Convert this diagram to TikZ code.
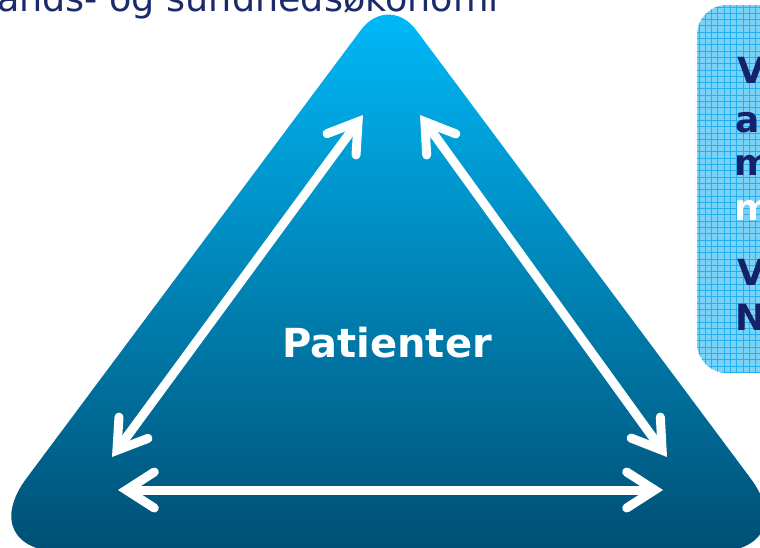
\documentclass[tikz,border=0pt]{standalone}
\usepackage{fontspec}
\setmainfont{DejaVu Sans}
\usetikzlibrary{arrows.meta}
\definecolor{navy}{HTML}{14216B}
\definecolor{titlenavy}{HTML}{1B2A6B}
\definecolor{tritop}{HTML}{00BCFC}
\definecolor{trimid}{HTML}{009CD4}
\definecolor{tribot}{HTML}{004F74}
\definecolor{boxfill}{HTML}{7AD3F7}
\definecolor{boxgrid}{HTML}{22B0EE}
\tikzset{
  barb/.tip={Straight Barb[length=28pt,width=36pt,line cap=round,line join=miter]},
  dblarrow/.style={draw=white, line width=9pt, barb-barb},
  boxletter/.style={anchor=base west, inner sep=0pt, text=navy,
    font=\bfseries\fontsize{36}{44}\selectfont},
}
\begin{document}
\begin{tikzpicture}[x=1pt,y=-1pt]
\useasboundingbox (0,0) rectangle (760,547);
\clip (0,0) rectangle (760,547);

% title (cut off at the top)
\node[anchor=base west, inner sep=0pt, text=titlenavy,
  font=\fontsize{36.5}{44}\selectfont] (title) at (-3,11) {ands- og sundhedsøkonomi};

% triangle
\shade[top color=tritop, middle color=trimid, bottom color=tribot]
  (388.5,552) [rounded corners=92pt] -- (805.5,552)
  [rounded corners=46pt] -- (388.5,-7)
  [rounded corners=92pt] -- (-28.5,552) -- cycle;

% side box
\begin{scope}
  \clip[rounded corners=30pt] (697,5) rectangle (820,373);
  \fill[boxfill] (697,5) rectangle (820,373);
  \foreach \i in {0,...,11} \draw[boxgrid, line width=1pt] ({699+\i*6.3},0) -- ++(0,380);
  \foreach \j in {0,...,60} \draw[boxgrid, line width=1pt] (690,{7+\j*6.3}) -- ++(80,0);
\end{scope}
\node[boxletter] (b1) at (737,83) {V};
\node[boxletter] (b2) at (735,132) {a};
\node[boxletter] (b3) at (734,175) {m};
\node[boxletter, text=white] (b4) at (734,220) {m};
\node[boxletter] (b5) at (737,285) {V};
\node[boxletter] (b6) at (735,330) {N};

% label
\node[anchor=base, inner sep=0pt, text=white, font=\bfseries\fontsize{40}{48}\selectfont]
  (pat) at (387,357) {Patienter};

% arrow end points
\coordinate (hl) at (118,490);
\coordinate (hr) at (663,490);
\coordinate (ll) at (112,457);
\coordinate (lt) at (363,115);
\coordinate (rt) at (420,115);
\coordinate (rb) at (667,457);

\draw[dblarrow] (hl) -- (hr);
\draw[dblarrow] (ll) -- (lt);
\draw[dblarrow] (rt) -- (rb);
\end{tikzpicture}
\end{document}
